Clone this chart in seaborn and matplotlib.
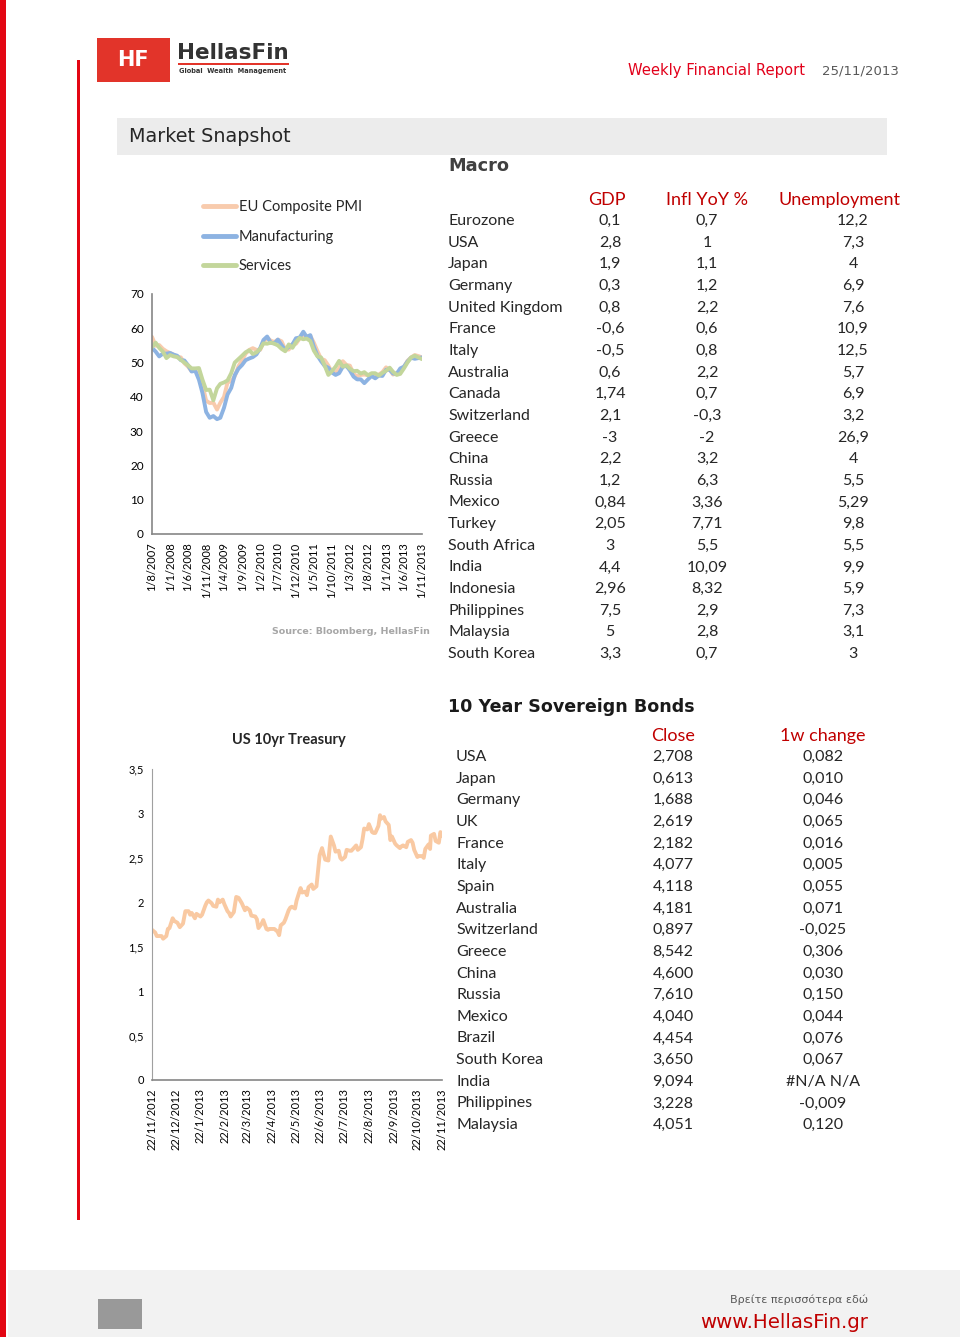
import matplotlib
matplotlib.use('Agg')
import matplotlib.pyplot as plt
import matplotlib.patches as mpatches
import matplotlib.lines as mlines
import pandas as pd
import seaborn as sns

sns.set_style('white')
plt.rcParams['font.family'] = ['Lato', 'DejaVu Sans']

# ---- PMI data (monthly, Aug 2007 - Nov 2013) ----
pmi_dates = pd.date_range('2007-08-01', '2013-11-01', freq='MS')
pmi_composite = [57.5, 54.9, 55.1, 54.0, 53.3,
                 52.8, 52.3, 51.7, 51.5, 49.8, 48.8, 47.5, 47.6, 46.5, 43.6, 38.9, 38.2,
                 38.3, 36.3, 38.3, 40.0, 44.2, 44.6, 46.0, 48.9, 50.7, 52.6, 53.7, 54.2,
                 53.7, 53.7, 55.9, 57.3, 56.4, 56.0, 56.7, 56.2, 53.8, 53.8, 55.4, 55.5,
                 57.0, 58.2, 57.6, 57.8, 55.8, 53.3, 51.1, 50.7, 49.1, 47.2, 47.0, 48.3,
                 50.4, 49.3, 49.1, 46.7, 46.0, 46.4, 46.5, 46.3, 46.1, 45.7, 46.5, 47.2,
                 48.6, 47.9, 46.5, 46.9, 47.7, 48.7, 50.5, 51.5, 52.2, 51.9, 51.5]
pmi_manufacturing = [54.3, 53.2, 51.8, 52.6, 52.6,
                     52.8, 52.3, 52.0, 50.7, 50.6, 49.2, 47.4, 47.6, 45.0, 41.1, 35.6, 33.9,
                     34.4, 33.5, 33.9, 36.8, 40.7, 42.6, 46.3, 48.2, 49.3, 50.7, 51.2, 51.6,
                     52.4, 54.2, 56.6, 57.6, 55.8, 55.6, 56.7, 55.1, 53.7, 54.6, 55.3, 57.1,
                     57.3, 59.0, 57.5, 58.0, 54.6, 52.0, 50.4, 49.0, 48.5, 47.1, 46.4, 46.9,
                     48.8, 49.0, 47.7, 45.9, 45.1, 45.1, 44.0, 45.1, 46.1, 45.4, 46.2, 46.1,
                     47.9, 47.9, 46.8, 46.7, 48.3, 48.8, 50.3, 51.4, 51.1, 51.3, 51.5]
pmi_services = [54.5, 55.8, 54.3, 53.2, 51.3,
                52.2, 51.8, 51.6, 50.8, 50.0, 49.2, 48.3, 48.3, 48.4, 45.0, 42.0, 42.1,
                39.0, 42.5, 43.8, 44.2, 44.8, 46.9, 50.0, 51.0, 52.0, 53.0, 53.6, 52.5,
                53.0, 54.0, 55.6, 55.5, 55.8, 55.5, 55.0, 54.0, 53.3, 55.3, 54.3, 56.0,
                57.2, 56.8, 57.0, 56.3, 53.5, 51.8, 51.5, 49.1, 46.4, 47.5, 48.8, 50.5,
                48.8, 49.2, 48.2, 47.5, 47.6, 46.8, 47.2, 46.3, 46.9, 46.9, 46.2, 47.0,
                47.6, 48.5, 47.3, 46.4, 46.7, 48.3, 50.0, 51.5, 52.0, 51.5, 51.0]
pmi_ticks = ['1/8/2007', '1/1/2008', '1/6/2008', '1/11/2008', '1/4/2009', '1/9/2009',
             '1/2/2010', '1/7/2010', '1/12/2010', '1/5/2011', '1/10/2011', '1/3/2012',
             '1/8/2012', '1/1/2013', '1/6/2013', '1/11/2013']

# ---- US 10yr Treasury ----
ust_dates = ['2012-11-22', '2012-11-26', '2012-11-28', '2012-11-30', '2012-12-04', '2012-12-06',
             '2012-12-10', '2012-12-12', '2012-12-14', '2012-12-18', '2012-12-20', '2012-12-24',
             '2012-12-27', '2012-12-31', '2013-01-03', '2013-01-07', '2013-01-09', '2013-01-11',
             '2013-01-15', '2013-01-17', '2013-01-22', '2013-01-24', '2013-01-28', '2013-01-30',
             '2013-02-01', '2013-02-05', '2013-02-07', '2013-02-11', '2013-02-13', '2013-02-15',
             '2013-02-19', '2013-02-21', '2013-02-25', '2013-02-27', '2013-03-01', '2013-03-05',
             '2013-03-08', '2013-03-11', '2013-03-13', '2013-03-15', '2013-03-19', '2013-03-21',
             '2013-03-25', '2013-03-27', '2013-04-01', '2013-04-03', '2013-04-05', '2013-04-09',
             '2013-04-11', '2013-04-15', '2013-04-17', '2013-04-19', '2013-04-23', '2013-04-25',
             '2013-04-29', '2013-05-01', '2013-05-03', '2013-05-07', '2013-05-09', '2013-05-13',
             '2013-05-15', '2013-05-17', '2013-05-21', '2013-05-23', '2013-05-28', '2013-05-30',
             '2013-06-03', '2013-06-05', '2013-06-07', '2013-06-11', '2013-06-13', '2013-06-17',
             '2013-06-19', '2013-06-21', '2013-06-24', '2013-06-26', '2013-06-28', '2013-07-02',
             '2013-07-05', '2013-07-09', '2013-07-11', '2013-07-15', '2013-07-17', '2013-07-19',
             '2013-07-23', '2013-07-25', '2013-07-29', '2013-07-31', '2013-08-02', '2013-08-06',
             '2013-08-08', '2013-08-12', '2013-08-14', '2013-08-16', '2013-08-20', '2013-08-22',
             '2013-08-26', '2013-08-28', '2013-08-30', '2013-09-03', '2013-09-05', '2013-09-06',
             '2013-09-10', '2013-09-12', '2013-09-16', '2013-09-18', '2013-09-20', '2013-09-24',
             '2013-09-26', '2013-09-30', '2013-10-02', '2013-10-04', '2013-10-08', '2013-10-10',
             '2013-10-14', '2013-10-16', '2013-10-18', '2013-10-22', '2013-10-24', '2013-10-28',
             '2013-10-30', '2013-11-01', '2013-11-05', '2013-11-07', '2013-11-08', '2013-11-12',
             '2013-11-14', '2013-11-18', '2013-11-20', '2013-11-22']
ust_yield = [1.69, 1.66, 1.62, 1.62, 1.62, 1.59,
             1.62, 1.70, 1.71, 1.82, 1.79, 1.77,
             1.72, 1.76, 1.90, 1.90, 1.86, 1.88,
             1.82, 1.87, 1.84, 1.86, 1.96, 2.00,
             2.02, 1.99, 1.96, 1.95, 2.03, 2.00,
             2.03, 1.98, 1.90, 1.88, 1.84, 1.89,
             2.06, 2.05, 2.02, 1.99, 1.91, 1.94,
             1.91, 1.85, 1.84, 1.81, 1.71, 1.76,
             1.80, 1.70, 1.69, 1.70, 1.70, 1.70,
             1.67, 1.63, 1.74, 1.77, 1.81, 1.91,
             1.94, 1.95, 1.93, 2.02, 2.16, 2.11,
             2.12, 2.08, 2.17, 2.20, 2.15, 2.18,
             2.35, 2.53, 2.61, 2.54, 2.48, 2.47,
             2.74, 2.64, 2.57, 2.58, 2.50, 2.48,
             2.51, 2.59, 2.58, 2.58, 2.60, 2.64,
             2.59, 2.62, 2.71, 2.83, 2.82, 2.88,
             2.79, 2.78, 2.78, 2.86, 2.98, 2.94,
             2.96, 2.91, 2.87, 2.70, 2.74, 2.66,
             2.64, 2.61, 2.63, 2.64, 2.62, 2.68,
             2.70, 2.67, 2.59, 2.51, 2.52, 2.52,
             2.50, 2.60, 2.65, 2.60, 2.75, 2.77,
             2.69, 2.67, 2.79, 2.75]
ust_ticks = ['22/11/2012', '22/12/2012', '22/1/2013', '22/2/2013', '22/3/2013', '22/4/2013',
             '22/5/2013', '22/6/2013', '22/7/2013', '22/8/2013', '22/9/2013', '22/10/2013',
             '22/11/2013']
ust_ylabels = ['0', '0,5', '1', '1,5', '2', '2,5', '3', '3,5']

# ---- Macro table ----
macro_countries = ['Eurozone', 'USA', 'Japan', 'Germany', 'United Kingdom', 'France', 'Italy',
                   'Australia', 'Canada', 'Switzerland', 'Greece', 'China', 'Russia', 'Mexico',
                   'Turkey', 'South Africa', 'India', 'Indonesia', 'Philippines', 'Malaysia',
                   'South Korea']
macro_gdp = ['0,1', '2,8', '1,9', '0,3', '0,8', '-0,6', '-0,5', '0,6', '1,74', '2,1', '-3', '2,2',
             '1,2', '0,84', '2,05', '3', '4,4', '2,96', '7,5', '5', '3,3']
macro_infl = ['0,7', '1', '1,1', '1,2', '2,2', '0,6', '0,8', '2,2', '0,7', '-0,3', '-2', '3,2',
              '6,3', '3,36', '7,71', '5,5', '10,09', '8,32', '2,9', '2,8', '0,7']
macro_unemp = ['12,2', '7,3', '4', '6,9', '7,6', '10,9', '12,5', '5,7', '6,9', '3,2', '26,9', '4',
               '5,5', '5,29', '9,8', '5,5', '9,9', '5,9', '7,3', '3,1', '3']

# ---- Bonds table ----
bond_countries = ['USA', 'Japan', 'Germany', 'UK', 'France', 'Italy', 'Spain', 'Australia',
                  'Switzerland', 'Greece', 'China', 'Russia', 'Mexico', 'Brazil', 'South Korea',
                  'India', 'Philippines', 'Malaysia']
bond_close = ['2,708', '0,613', '1,688', '2,619', '2,182', '4,077', '4,118', '4,181', '0,897',
              '8,542', '4,600', '7,610', '4,040', '4,454', '3,650', '9,094', '3,228', '4,051']
bond_change = ['0,082', '0,010', '0,046', '0,065', '0,016', '0,005', '0,055', '0,071', '-0,025',
               '0,306', '0,030', '0,150', '0,044', '0,076', '0,067', '#N/A N/A', '-0,009', '0,120']

W, H = 960, 1337
RED = '#c00000'
AXIS_GREY = '#868686'


def fx(x):
    return x / W


def fy(y):
    return 1 - y / H


def rect(x0, y0, x1, y1, color):
    fig.add_artist(mpatches.Rectangle((fx(x0), fy(y1)), (x1 - x0) / W, (y1 - y0) / H,
                                      transform=fig.transFigure, color=color, lw=0, zorder=0))


def style_axis(ax):
    sns.despine(ax=ax)
    for s in ['left', 'bottom']:
        ax.spines[s].set_color(AXIS_GREY)
        ax.spines[s].set_linewidth(1.2)
    ax.tick_params(direction='out', length=4, width=1, color=AXIS_GREY, labelsize=8,
                   labelcolor='black', pad=2)
    ax.tick_params(axis='y', labelsize=8.5)
    ax.set_xlabel('')
    ax.set_ylabel('')
    ax.set_facecolor('none')


fig = plt.figure(figsize=(9.6, 13.37), dpi=100)

# page decoration
rect(0, 0, 6, 1337, '#e30613')
rect(77, 60, 80, 1220, '#e30613')
rect(8, 1270, 960, 1337, '#f2f2f2')
rect(98, 1299, 142, 1329, '#999999')
rect(117, 118, 887, 155, '#ececec')

# logo
rect(97, 38, 170, 82, '#e2342a')
fig.text(fx(133), fy(60), 'HF', color='white', fontsize=15, fontweight='bold',
         family='DejaVu Sans', ha='center', va='center')
fig.text(fx(177), fy(53), 'HellasFin', color='#333333', fontsize=15.5, fontweight='bold',
         family='DejaVu Sans', ha='left', va='center')
rect(178, 63, 289, 65, '#e2342a')
fig.text(fx(179), fy(71), 'Global  Wealth  Management', color='#333333', fontsize=4.8,
         fontweight='bold', family='DejaVu Sans', ha='left', va='center')

fig.text(fx(805), fy(70), 'Weekly Financial Report', color='#e2001a', fontsize=10.6,
         family='DejaVu Sans', ha='right', va='center')
fig.text(fx(822), fy(71), '25/11/2013', color='#595959', fontsize=9.5,
         family='DejaVu Sans', ha='left', va='center')
fig.text(fx(129), fy(136), 'Market Snapshot', color='#262626', fontsize=13.8,
         family='DejaVu Sans', ha='left', va='center')

# ---- PMI chart ----
pmi_df = pd.DataFrame({
    'date': list(pmi_dates) * 3,
    'value': pmi_composite + pmi_manufacturing + pmi_services,
    'series': ['EU Composite PMI'] * len(pmi_dates) + ['Manufacturing'] * len(pmi_dates)
              + ['Services'] * len(pmi_dates),
})
ax1 = fig.add_axes([fx(152), fy(534), (422 - 152) / W, (534 - 294) / H])
sns.lineplot(data=pmi_df, x='date', y='value', hue='series',
             hue_order=['EU Composite PMI', 'Manufacturing', 'Services'],
             palette=['#f8cbad', '#8db3e2', '#c3d69b'], linewidth=2.8, ax=ax1, legend=False)
ax1.set_ylim(0, 70)
ax1.set_yticks(range(0, 71, 10))
ax1.set_xlim(pmi_dates[0], pmi_dates[-1])
ax1.set_xticks(pd.to_datetime(pmi_ticks, format='%d/%m/%Y'))
ax1.set_xticklabels(pmi_ticks, rotation=90)
style_axis(ax1)
handles = [mlines.Line2D([], [], color=c, lw=3.5) for c in ['#f8cbad', '#8db3e2', '#c3d69b']]
ax1.legend(handles, ['EU Composite PMI', 'Manufacturing', 'Services'], loc='upper left',
           bbox_to_anchor=(fx(196), fy(193)), bbox_transform=fig.transFigure, frameon=False,
           fontsize=10.5, handlelength=2.25, handletextpad=0.2, labelspacing=1.05, borderpad=0)
fig.text(fx(430), fy(632), 'Source: Bloomberg, HellasFin', color='#a6a6a6', fontsize=6.8,
         fontweight='bold', family='DejaVu Sans', ha='right', va='center')

# ---- Macro table ----
fig.text(fx(448), fy(166), 'Macro', color='#404040', fontsize=12.8, fontweight='bold',
         family='DejaVu Sans', ha='left', va='center')
hy = 200
fig.text(fx(607), fy(hy), 'GDP', color=RED, fontsize=13, ha='center', va='center')
fig.text(fx(707), fy(hy), 'Infl YoY %', color=RED, fontsize=13, ha='center', va='center')
fig.text(fx(840), fy(hy), 'Unemployment', color=RED, fontsize=13, ha='center', va='center')
step = 21.65
for i, c in enumerate(macro_countries):
    y = fy(221 + i * step)
    fig.text(fx(448), y, c, fontsize=11.5, ha='left', va='center')
    fig.text(fx(610), y, macro_gdp[i], fontsize=11.5, ha='center', va='center')
    fig.text(fx(707), y, macro_infl[i], fontsize=11.5, ha='center', va='center')
    fig.text(fx(853), y, macro_unemp[i], fontsize=11.5, ha='center', va='center')

# ---- Treasury chart ----
ax2 = fig.add_axes([fx(152), fy(1080), (442 - 152) / W, (1080 - 769) / H])
sns.lineplot(x=pd.to_datetime(ust_dates), y=ust_yield, color='#f9c9a2', linewidth=2.8, ax=ax2)
ax2.set_ylim(0, 3.5)
ax2.set_yticks([0, 0.5, 1, 1.5, 2, 2.5, 3, 3.5])
ax2.set_yticklabels(ust_ylabels)
tick_dates = pd.to_datetime(ust_ticks, format='%d/%m/%Y')
ax2.set_xlim(tick_dates[0], tick_dates[-1])
ax2.set_xticks(tick_dates)
ax2.set_xticklabels(ust_ticks, rotation=90)
style_axis(ax2)
ax2.tick_params(axis='y', labelsize=8)
ax2.spines['left'].set_color('#a0a0a0')
ax2.spines['left'].set_linewidth(0.8)
fig.text(fx(289), fy(740), 'US 10yr Treasury', fontsize=10.5, fontweight='bold',
         ha='center', va='center')

# ---- Bonds table ----
fig.text(fx(448), fy(707), '10 Year Sovereign Bonds', color='#1a1a1a', fontsize=12.6,
         fontweight='bold', family='DejaVu Sans', ha='left', va='center')
fig.text(fx(673), fy(736), 'Close', color=RED, fontsize=13, ha='center', va='center')
fig.text(fx(823), fy(736), '1w change', color=RED, fontsize=13, ha='center', va='center')
for i, c in enumerate(bond_countries):
    y = fy(757 + i * step)
    fig.text(fx(456), y, c, fontsize=11.5, ha='left', va='center')
    fig.text(fx(673), y, bond_close[i], fontsize=11.5, ha='center', va='center')
    fig.text(fx(823), y, bond_change[i], fontsize=11.5, ha='center', va='center')

# footer
fig.text(fx(868), fy(1300), 'Βρείτε περισσότερα εδώ', color='#595959', fontsize=8,
         family='DejaVu Sans', ha='right', va='center')
fig.text(fx(868), fy(1323), 'www.HellasFin.gr', color=RED, fontsize=14.2,
         family='DejaVu Sans', ha='right', va='center')

fig.savefig('out.png', dpi=100)
